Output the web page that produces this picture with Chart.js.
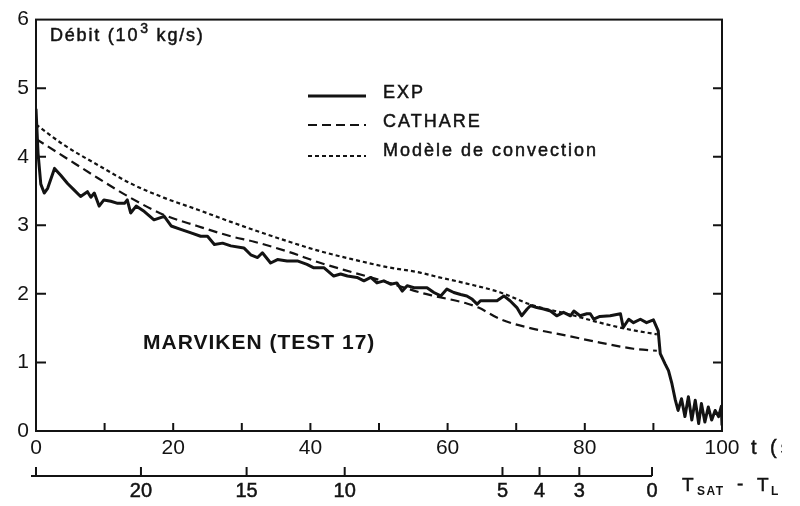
<!DOCTYPE html>
<html>
<head>
<meta charset="utf-8">
<script src="https://cdn.jsdelivr.net/npm/chart.js@4/dist/chart.umd.min.js"></script>
<style>
  html, body { margin: 0; padding: 0; background: #ffffff; }
  #wrap { width: 800px; height: 506px; position: relative; }
</style>
</head>
<body>
<div id="wrap"><canvas id="c" width="800" height="506"></canvas></div>
<script>
// ---- Data ----
const expT = [0, 0.3, 0.7, 1.2, 1.7, 2.7, 3.6, 4.6, 5.5, 6.5, 7.5, 8.0, 8.5, 9.2, 9.9, 10.9, 11.9, 12.9, 13.3, 13.8,
  14.6, 15.8, 17.2, 18.7, 19.7, 21.1, 22.6, 24.0, 25.0, 26.0, 27.2, 28.4, 30.3, 31.3, 32.3, 33.0, 34.2, 35.2, 36.6, 38.1,
  39.5, 40.5, 42.0, 43.4, 44.4, 45.4, 46.8, 47.8, 48.8, 49.7, 50.7, 51.7, 52.6, 53.4, 54.1, 55.1, 56.0, 57.0, 58.0, 59.0,
  59.9, 60.9, 61.9, 62.8, 63.6, 64.3, 64.8, 65.7, 67.2, 68.2, 69.1, 70.1, 70.8, 71.6, 72.1, 73.0, 74.0, 75.0, 75.9, 76.9,
  77.9, 78.4, 79.3, 80.3, 80.8, 81.3, 82.2, 83.7, 85.2, 85.6, 86.4, 87.1, 88.1, 89.0, 90.0, 90.7, 91.0, 91.7, 92.2, 92.7,
  93.2, 93.6, 94.1, 94.6, 95.1, 95.6, 96.1, 96.6, 97.0, 97.5, 98.0, 98.5, 99.0, 99.5, 99.9, 100];
const expV = [4.70, 4.05, 3.60, 3.47, 3.54, 3.83, 3.73, 3.61, 3.52, 3.42, 3.49, 3.41, 3.47, 3.28, 3.37, 3.35, 3.32, 3.32, 3.37, 3.18,
  3.28, 3.20, 3.08, 3.13, 2.99, 2.94, 2.89, 2.84, 2.84, 2.72, 2.74, 2.70, 2.67, 2.57, 2.53, 2.60, 2.45, 2.50, 2.48, 2.48,
  2.43, 2.38, 2.38, 2.26, 2.29, 2.26, 2.24, 2.19, 2.24, 2.16, 2.19, 2.14, 2.16, 2.04, 2.12, 2.09, 2.09, 2.09, 2.02, 1.97,
  2.07, 2.02, 1.99, 1.97, 1.92, 1.85, 1.90, 1.90, 1.90, 1.97, 1.90, 1.80, 1.68, 1.78, 1.83, 1.80, 1.78, 1.75, 1.68, 1.73,
  1.68, 1.75, 1.68, 1.71, 1.71, 1.63, 1.67, 1.68, 1.71, 1.51, 1.63, 1.58, 1.63, 1.58, 1.62, 1.46, 1.13, 0.98, 0.88, 0.69,
  0.45, 0.30, 0.47, 0.21, 0.50, 0.16, 0.45, 0.11, 0.40, 0.13, 0.35, 0.16, 0.30, 0.21, 0.36, 0.08];

const cathT = [0, 4.1, 9.0, 13.8, 18.7, 23.5, 28.4, 31.8, 36.6, 41.5, 46.3, 51.2, 56.0, 58.0, 62.8, 64.5, 67.7, 72.5, 77.4, 82.2, 87.1, 90.5];
const cathV = [4.26, 4.00, 3.69, 3.40, 3.15, 2.99, 2.84, 2.76, 2.62, 2.45, 2.31, 2.17, 2.02, 1.97, 1.86, 1.80, 1.63, 1.49, 1.39, 1.29, 1.20, 1.17];

const convT = [0, 4.1, 9.0, 13.8, 18.7, 23.5, 28.4, 31.8, 36.6, 41.5, 46.3, 51.2, 56.0, 58.0, 62.8, 67.7, 72.5, 77.4, 82.2, 86.0, 90.5];
const convV = [4.47, 4.17, 3.88, 3.61, 3.40, 3.23, 3.05, 2.93, 2.77, 2.62, 2.50, 2.39, 2.31, 2.26, 2.15, 2.02, 1.83, 1.71, 1.58, 1.49, 1.41];

const seriesNames = ['EXP', 'CATHARE', 'Modèle de convection'];
const yTickValues = [0, 1, 2, 3, 4, 5, 6];
const xLabelValues = [0, 20, 40, 60, 80, 100];
const tsatTickT = [0, 15.3, 30.7, 45.0, 68.0, 73.4, 79.2, 89.8];
const tsatTickLabels = ['', '20', '15', '10', '5', '4', '3', '0'];

const titleText = ['Débit (10', '3', ' kg/s)'];
const caseLabel = 'MARVIKEN (TEST 17)';
const xUnitLabel = 't (s)';
const tsatLabel = ['T', 'SAT', '-', 'T', 'L'];

// ---- helpers ----
const INK = '#131313';
const FONT = '"Liberation Sans", Arial, sans-serif';
function pts(tArr, vArr) { return tArr.map((t, i) => ({ x: t, y: vArr[i] })); }
function heavyText(ctx, s, x, y) { ctx.fillText(s, x, y); ctx.strokeText(s, x, y); }

const decor = {
  id: 'decor',
  afterDraw(chart) {
    const ctx = chart.ctx;
    const xs = chart.scales.x, ys = chart.scales.y;
    const a = chart.chartArea;
    ctx.save();
    ctx.strokeStyle = INK;
    ctx.fillStyle = INK;
    ctx.lineWidth = 2;
    ctx.setLineDash([]);
    // frame
    ctx.strokeRect(a.left, a.top, a.right - a.left, a.bottom - a.top);
    // inner ticks: left & right
    yTickValues.forEach(v => {
      if (v === 0 || v === 6) return;
      const y = ys.getPixelForValue(v);
      ctx.beginPath();
      ctx.moveTo(a.left, y); ctx.lineTo(a.left + 10, y);
      ctx.moveTo(a.right, y); ctx.lineTo(a.right - 9, y);
      ctx.stroke();
    });
    // inner ticks: bottom
    for (let t = 10; t < 100; t += 10) {
      const x = xs.getPixelForValue(t);
      ctx.beginPath();
      ctx.moveTo(x, a.bottom); ctx.lineTo(x, a.bottom - 8);
      ctx.stroke();
    }

    // secondary axis (Tsat - TL)
    const yAx = 476;
    const x0 = xs.getPixelForValue(tsatTickT[0]) - 5;
    const x1 = xs.getPixelForValue(tsatTickT[tsatTickT.length - 1]);
    ctx.beginPath();
    ctx.moveTo(x0, yAx); ctx.lineTo(x1, yAx);
    ctx.stroke();
    ctx.font = '20px ' + FONT;
    ctx.textAlign = 'center';
    ctx.textBaseline = 'middle';
    tsatTickT.forEach((t, i) => {
      const x = xs.getPixelForValue(t);
      ctx.lineWidth = 2;
      ctx.beginPath();
      ctx.moveTo(x, yAx); ctx.lineTo(x, yAx - 9);
      ctx.stroke();
      ctx.lineWidth = 0.5;
      if (tsatTickLabels[i]) heavyText(ctx, tsatTickLabels[i], x, 491);
    });

    // T_SAT - T_L label
    ctx.textAlign = 'left';
    ctx.textBaseline = 'alphabetic';
    ctx.lineWidth = 0.5;
    ctx.font = '19px ' + FONT;
    heavyText(ctx, tsatLabel[0], 682, 491);
    ctx.font = 'bold 12px ' + FONT;
    ctx.letterSpacing = '1.5px';
    ctx.fillText(tsatLabel[1], 697, 495);
    ctx.letterSpacing = '0px';
    ctx.font = '19px ' + FONT;
    heavyText(ctx, tsatLabel[2], 737, 490);
    heavyText(ctx, tsatLabel[3], 757, 491);
    ctx.font = 'bold 12px ' + FONT;
    ctx.fillText(tsatLabel[4], 771, 495);

    // x unit label, clipped like the scan
    ctx.save();
    ctx.beginPath();
    ctx.rect(740, 430, 42, 30);
    ctx.clip();
    ctx.font = '20px ' + FONT;
    ctx.letterSpacing = '4px';
    heavyText(ctx, xUnitLabel, 751, 454);
    ctx.restore();

    // title
    ctx.font = '18px ' + FONT;
    ctx.letterSpacing = '1.8px';
    let tx = 50;
    heavyText(ctx, titleText[0], tx, 41); tx += ctx.measureText(titleText[0]).width + 1;
    ctx.font = '14px ' + FONT;
    heavyText(ctx, titleText[1], tx, 33); tx += ctx.measureText(titleText[1]).width;
    ctx.font = '18px ' + FONT;
    heavyText(ctx, titleText[2], tx, 41);

    // case label
    ctx.font = 'bold 21px ' + FONT;
    ctx.letterSpacing = '1px';
    ctx.textBaseline = 'middle';
    ctx.fillText(caseLabel, 143, 343);

    // legend
    const dashes = [[], [9, 5], [4, 3]];
    const widths = [3, 2, 2];
    const lineY = [96, 125, 156];
    const textY = [93, 122, 151];
    chart.data.datasets.forEach((ds, i) => {
      ctx.beginPath();
      ctx.setLineDash(dashes[i]);
      ctx.lineWidth = widths[i];
      ctx.moveTo(308, lineY[i]); ctx.lineTo(366, lineY[i]);
      ctx.stroke();
      ctx.setLineDash([]);
      ctx.lineWidth = 0.5;
      ctx.font = '18px ' + FONT;
      ctx.letterSpacing = '2px';
      ctx.textBaseline = 'middle';
      heavyText(ctx, ds.label, 383, textY[i]);
    });
    ctx.restore();
  }
};

new Chart(document.getElementById('c'), {
  type: 'scatter',
  data: {
    datasets: [
      { label: seriesNames[0], data: pts(expT, expV), showLine: true, borderColor: INK, borderWidth: 3,
        pointRadius: 0, tension: 0, borderJoinStyle: 'round' },
      { label: seriesNames[1], data: pts(cathT, cathV), showLine: true, borderColor: INK, borderWidth: 2.2,
        borderDash: [9, 5], pointRadius: 0, cubicInterpolationMode: 'monotone' },
      { label: seriesNames[2], data: pts(convT, convV), showLine: true, borderColor: INK, borderWidth: 2.2,
        borderDash: [4, 3], pointRadius: 0, cubicInterpolationMode: 'monotone' }
    ]
  },
  options: {
    responsive: false,
    animation: false,
    layout: { padding: { top: 17, right: 78, left: 0, bottom: 0 } },
    plugins: { legend: { display: false }, tooltip: { enabled: false } },
    scales: {
      x: {
        type: 'linear', min: 0, max: 100,
        afterFit(s) { s.height = 75; },
        afterBuildTicks(s) { s.ticks = xLabelValues.map(v => ({ value: v })); },
        ticks: { color: INK, font: { size: 21, family: FONT }, padding: 5, maxRotation: 0, autoSkip: false },
        grid: { display: false, drawTicks: false },
        border: { display: true, color: INK, width: 2 }
      },
      y: {
        min: 0, max: 6,
        afterFit(s) { s.width = 36; },
        afterBuildTicks(s) { s.ticks = yTickValues.map(v => ({ value: v })); },
        ticks: { color: INK, font: { size: 21, family: FONT }, padding: 7 },
        grid: { display: false, drawTicks: false },
        border: { display: true, color: INK, width: 2 }
      }
    }
  },
  plugins: [decor]
});
</script>
</body>
</html>
